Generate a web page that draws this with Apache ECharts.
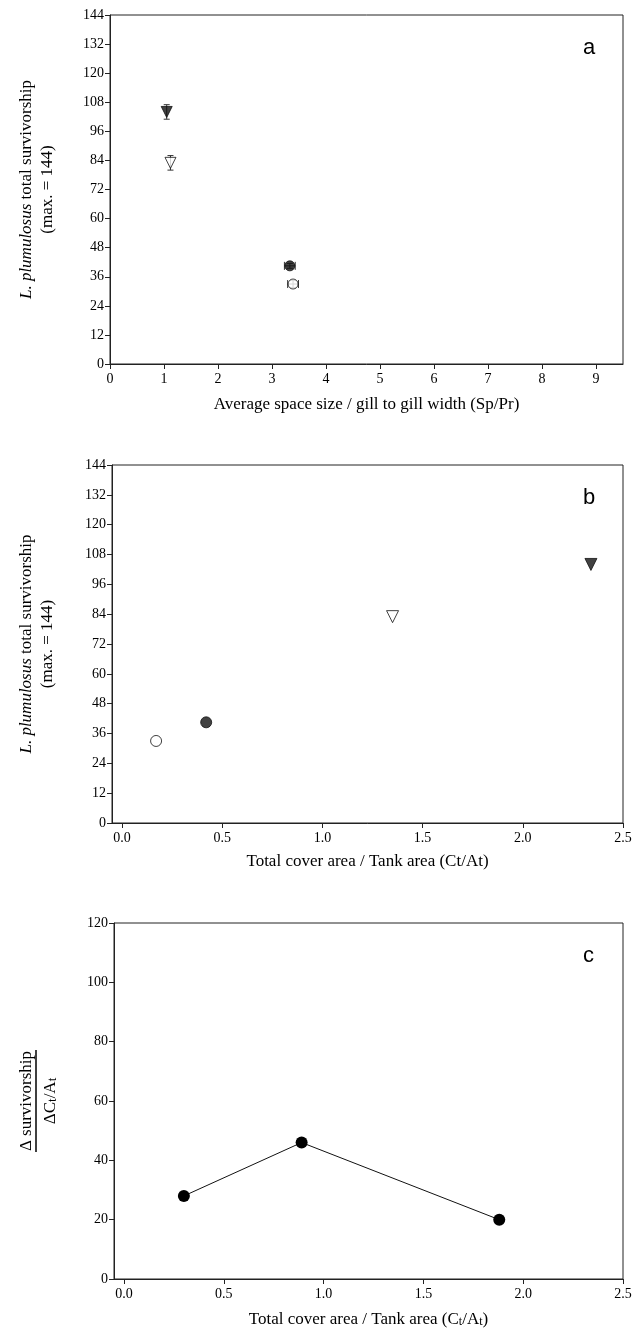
<!DOCTYPE html>
<html>
<head>
<meta charset="utf-8">
<script src="https://cdn.jsdelivr.net/npm/echarts@6/dist/echarts.min.js"></script>
<style>
  html, body { margin: 0; padding: 0; background: #fff; }
  #chart { width: 635px; height: 1339px; }
</style>
</head>
<body>
<div id="chart"></div>
<script>
// panel a / b: four treatments (filled tri, open tri, filled circle, open circle)
const spPr = [1.05, 1.12, 3.33, 3.39]
const spPrErr = [0, 0, 0.1, 0.1]
const survival = [104, 83, 40.5, 33]
const survErr = [3, 3, 1, 1.5]
const ctAt = [2.34, 1.35, 0.42, 0.17]
const symbols = ['triangle', 'triangle', 'circle', 'circle']
const filled = [true, false, true, false]
// panel c
const ctAtMid = [0.30, 0.89, 1.88]
const deltaSurv = [28, 46, 20]
// tick labels
const spPrTicks = [0, 1, 2, 3, 4, 5, 6, 7, 8, 9]
const ratioTicks = [0, 0.5, 1, 1.5, 2, 2.5]

const serif = 'Liberation Serif'
const black = '#000'
const axisCol = '#222'

const grids = [
  { left: 110, top: 15, width: 513, height: 349 },
  { left: 112, top: 465, width: 511, height: 358 },
  { left: 114, top: 923, width: 509, height: 356 },
]

function yAxisBase(idx, max, interval) {
  return {
    type: 'value', gridIndex: idx, min: 0, max: max, interval: interval,
    axisLine: { show: true, onZero: false, lineStyle: { color: axisCol, width: 1 } },
    axisTick: { show: true, inside: false, length: 5, lineStyle: { color: axisCol } },
    axisLabel: { color: black, fontFamily: serif, fontSize: 14, margin: 6 },
    splitLine: { show: false },
  }
}
function xAxisBase(idx, ticks, fmt) {
  return {
    type: 'value', gridIndex: idx,
    axisLine: { show: true, onZero: false, lineStyle: { color: axisCol, width: 1 } },
    axisTick: { show: true, length: 5, customValues: ticks, lineStyle: { color: axisCol } },
    axisLabel: { color: black, fontFamily: serif, fontSize: 14, margin: 8, customValues: ticks, formatter: fmt },
    splitLine: { show: false },
    nameLocation: 'middle',
    nameTextStyle: { color: black, fontFamily: serif, fontSize: 17 },
  }
}

function survName(gap) {
  return {
    name: '{i|L. plumulosus} total survivorship\n(max. = 144)',
    nameLocation: 'middle', nameRotate: 90, nameGap: gap,
    nameTextStyle: {
      color: black, fontFamily: serif, fontSize: 17, lineHeight: 21, align: 'center',
      rich: { i: { fontStyle: 'italic', fontFamily: serif, fontSize: 17, color: black } },
    },
  }
}

const xA = Object.assign(xAxisBase(0, spPrTicks, v => String(v)), {
  min: 0, max: 9.5, nameGap: 32,
  name: 'Average space size / gill to gill width (Sp/Pr)',
})
const xB = Object.assign(xAxisBase(1, ratioTicks, v => v.toFixed(1)), {
  min: -0.05, max: 2.5, nameGap: 30,
  name: 'Total cover area / Tank area (Ct/At)',
})
const xC = Object.assign(xAxisBase(2, ratioTicks, v => v.toFixed(1)), {
  min: -0.05, max: 2.5, nameGap: 32,
  name: 'Total cover area / Tank area (C{s|t}/A{s|t})',
})
xC.nameTextStyle = Object.assign({}, xC.nameTextStyle, {
  rich: { s: { fontFamily: serif, fontSize: 12, color: black, verticalAlign: 'bottom', lineHeight: 12, padding: [7, 0, 0, 0] } },
})

const yA = Object.assign(yAxisBase(0, 144, 12), survName(52))
const yB = Object.assign(yAxisBase(1, 144, 12), survName(54))
const yC = yAxisBase(2, 120, 20)

function pointSeries(xi, yi, xs, ys, i, size) {
  return {
    type: 'scatter', xAxisIndex: xi, yAxisIndex: yi,
    symbol: symbols[i], symbolRotate: symbols[i] === 'triangle' ? 180 : 0,
    symbolSize: symbols[i] === 'triangle' ? size + 1 : size,
    itemStyle: { color: filled[i] ? '#111' : '#fff', borderColor: '#111', borderWidth: 1 },
    data: [[xs[i], ys[i]]],
    z: 5,
  }
}

const series = []
// x and y error bars in panel a
series.push({
  type: 'custom', xAxisIndex: 0, yAxisIndex: 0, z: 4,
  data: spPr.map((x, i) => [x, survival[i], spPrErr[i], survErr[i]]),
  renderItem: (params, api) => {
    const x = api.value(0), y = api.value(1), ex = api.value(2), ey = api.value(3)
    const st = { stroke: '#333', lineWidth: 1 }
    const kids = []
    if (ey > 0) {
      const lo = api.coord([x, y - ey]), hi = api.coord([x, y + ey])
      kids.push(
        { type: 'line', shape: { x1: lo[0], y1: lo[1], x2: hi[0], y2: hi[1] }, style: st },
        { type: 'line', shape: { x1: lo[0] - 3, y1: lo[1], x2: lo[0] + 3, y2: lo[1] }, style: st },
        { type: 'line', shape: { x1: hi[0] - 3, y1: hi[1], x2: hi[0] + 3, y2: hi[1] }, style: st }
      )
    }
    if (ex > 0) {
      const l = api.coord([x - ex, y]), r = api.coord([x + ex, y])
      kids.push(
        { type: 'line', shape: { x1: l[0], y1: l[1], x2: r[0], y2: r[1] }, style: st },
        { type: 'line', shape: { x1: l[0], y1: l[1] - 4, x2: l[0], y2: l[1] + 4 }, style: st },
        { type: 'line', shape: { x1: r[0], y1: r[1] - 4, x2: r[0], y2: r[1] + 4 }, style: st }
      )
    }
    return { type: 'group', children: kids }
  },
})
for (let i = 0; i < 4; i++) series.push(pointSeries(0, 0, spPr, survival, i, 10))
for (let i = 0; i < 4; i++) series.push(pointSeries(1, 1, ctAt, survival, i, 11))
series.push({
  type: 'line', xAxisIndex: 2, yAxisIndex: 2,
  data: ctAtMid.map((x, i) => [x, deltaSurv[i]]),
  symbol: 'circle', symbolSize: 12,
  lineStyle: { color: '#111', width: 1 },
  itemStyle: { color: '#000' },
})

const panelLetter = (txt, g) => ({
  type: 'text', left: g.left + g.width - 40, top: g.top + 22,
  style: { text: txt, font: '22px "Liberation Sans"', fill: black },
})

const option = {
  animation: false,
  grid: grids.map(g => Object.assign({ show: true, borderColor: axisCol, borderWidth: 1, backgroundColor: 'transparent' }, g)),
  xAxis: [xA, xB, xC],
  yAxis: [yA, yB, yC],
  series: series,
  graphic: [
    panelLetter('a', grids[0]),
    panelLetter('b', grids[1]),
    panelLetter('c', grids[2]),
    {
      type: 'group', x: 36, y: grids[2].top + grids[2].height / 2, rotation: Math.PI / 2,
      children: [
        { type: 'text', x: 0, y: -1, style: { text: 'Δ survivorship', font: '17px "Liberation Serif"', fill: black, align: 'center', verticalAlign: 'bottom' } },
        { type: 'line', shape: { x1: -51, y1: 0, x2: 51, y2: 0 }, style: { stroke: black, lineWidth: 1.5 } },
        {
          type: 'text', x: 0, y: 6,
          style: {
            text: 'ΔC{s|t}/A{s|t}', font: '17px "Liberation Serif"', fill: black, align: 'center', verticalAlign: 'top',
            rich: { s: { font: '13px "Liberation Serif"', fill: black, verticalAlign: 'bottom', lineHeight: 12, padding: [7, 0, 0, 0] } },
          },
        },
      ],
    },
  ],
}

const myChart = echarts.init(document.getElementById('chart'))
myChart.setOption(option)
</script>
</body>
</html>
